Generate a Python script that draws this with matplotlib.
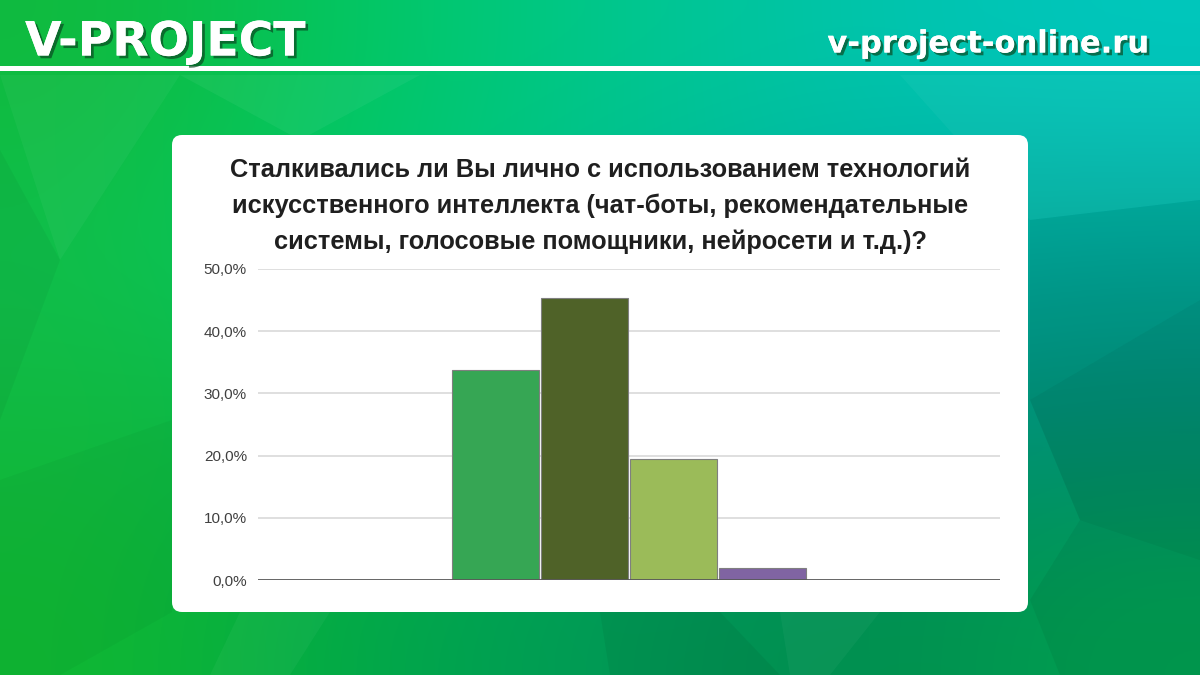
import matplotlib.pyplot as plt
import matplotlib.patheffects as pe
from matplotlib.patches import FancyBboxPatch, Polygon, Rectangle
from matplotlib.colors import to_rgb
import numpy as np

# survey answers (one series per bar), percent
series_values = [33.8, 45.4, 19.5, 1.9]
series_colors = ['#36A654', '#4F6228', '#9BBB59', '#8064A2']
y_ticks = [0, 10, 20, 30, 40, 50]
y_tick_labels = ['0,0%', '10,0%', '20,0%', '30,0%', '40,0%', '50,0%']
title = ('Сталкивались ли Вы лично с использованием технологий\n'
         'искусственного интеллекта (чат-боты, рекомендательные\n'
         'системы, голосовые помощники, нейросети и т.д.)?')

W, H = 1200, 675
fig = plt.figure(figsize=(12, 6.75), dpi=100)

# background gradient (coarse colour grid, smoothed)
bg_grid = [
    ['#10BA3E', '#02C862', '#00C88C', '#00C4AA', '#00C8BE'],
    ['#10C04C', '#00CC6E', '#00BC90', '#00ACA0', '#00A496'],
    ['#12B840', '#08B64E', '#00A868', '#00907E', '#008A74'],
    ['#10B832', '#00A848', '#009A58', '#008A4C', '#00A050'],
]
bg = np.array([[to_rgb(c) for c in row] for row in bg_grid])
bgax = fig.add_axes([0, 0, 1, 1])
bgax.imshow(bg, extent=[0, W, H, 0], interpolation='bicubic', aspect='auto')
bgax.set_xlim(0, W)
bgax.set_ylim(H, 0)
bgax.axis('off')

# low-poly facets
facets = [
    ([(0, 75), (180, 75), (60, 260)], 'white', 0.04),
    ([(60, 260), (0, 420), (0, 150)], 'black', 0.04),
    ([(180, 75), (420, 75), (300, 140)], 'white', 0.05),
    ([(900, 75), (1200, 75), (1200, 200), (1030, 220)], 'white', 0.04),
    ([(1030, 400), (1200, 300), (1200, 560), (1080, 520)], 'black', 0.09),
    ([(1030, 220), (1200, 200), (1200, 300), (1030, 400)], 'black', 0.05),
    ([(1030, 600), (1080, 520), (1200, 560), (1200, 675), (1060, 675)], 'black', 0.05),
    ([(600, 612), (720, 612), (780, 675), (610, 675)], 'black', 0.05),
    ([(780, 612), (880, 612), (830, 675), (790, 675)], 'white', 0.04),
    ([(240, 612), (330, 612), (290, 675), (210, 675)], 'white', 0.04),
    ([(0, 480), (172, 420), (172, 612), (60, 675), (0, 675)], 'black', 0.03),
]
for pts, col, a in facets:
    bgax.add_patch(Polygon(pts, closed=True, facecolor=col, alpha=a, edgecolor='none'))

# header line
bgax.add_patch(Rectangle((0, 66), W, 5, facecolor='white', edgecolor='none'))
shadow = [pe.withSimplePatchShadow(offset=(2, -2), shadow_rgbFace='#0a4a22', alpha=0.7), pe.Normal()]
bgax.text(25, 43, 'V-PROJECT', color='white', fontsize=34, fontweight='heavy',
          family='DejaVu Sans', va='center', ha='left', path_effects=shadow)
bgax.text(1148, 44, 'v-project-online.ru', color='white', fontsize=22, fontweight='bold',
          family='DejaVu Sans', va='center', ha='right', path_effects=shadow)

# white card
bgax.add_patch(FancyBboxPatch((172, 135), 856, 477, boxstyle='round,pad=0,rounding_size=10',
                              facecolor='white', edgecolor='none'))

bgax.text(600, 206, title, ha='center', va='center', fontsize=18.3, fontweight='bold',
          color='#1F1F1F', family='Liberation Sans', linespacing=1.6)

# chart
ax = fig.add_axes([258 / W, 1 - 580 / H, (1000 - 258) / W, (580 - 269) / H])
x = np.arange(len(series_values))
ax.bar(x, series_values, width=0.98, color=series_colors, edgecolor='#7F7F7F', linewidth=0.8, zorder=3)
ax.set_xlim(1.5 - 4.18, 1.5 + 4.18)
ax.set_ylim(0, 50)
ax.set_yticks(y_ticks)
ax.set_yticklabels(y_tick_labels, fontsize=11, color='#404040', family='Liberation Sans')
ax.set_xticks([])
ax.tick_params(axis='y', length=0, pad=8)
for yv in y_ticks[1:]:
    ax.axhline(yv, color='#D9D9D9', linewidth=1.2, zorder=1)
ax.axhline(0, color='#595959', linewidth=1.3, zorder=4)
for s in ax.spines.values():
    s.set_visible(False)
ax.patch.set_alpha(0)

fig.savefig('out.png', dpi=100)
